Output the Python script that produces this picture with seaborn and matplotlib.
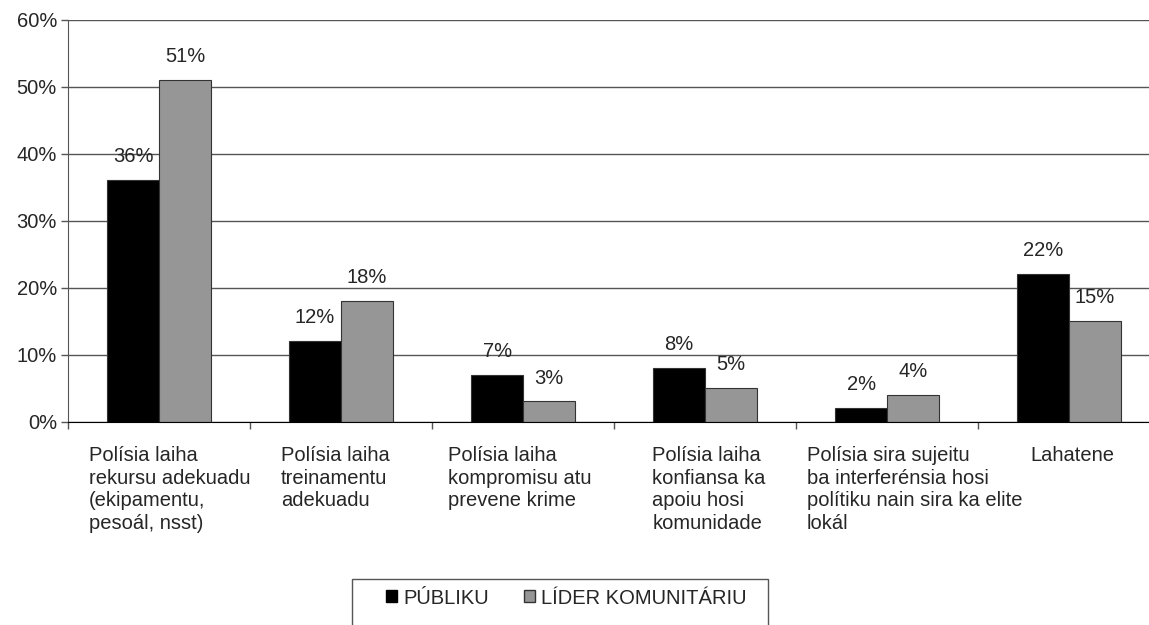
import pandas as pd
import matplotlib.pyplot as plt
import seaborn as sns
from matplotlib.patches import Rectangle, Patch
from matplotlib.ticker import FixedLocator

# Dados
kategoria = [
    "Polísia laiha\nrekursu adekuadu\n(ekipamentu,\npesoál, nsst)",
    "Polísia laiha\ntreinamentu\nadekuadu",
    "Polísia laiha\nkompromisu atu\nprevene krime",
    "Polísia laiha\nkonfiansa ka\napoiu hosi\nkomunidade",
    "Polísia sira sujeitu\nba interferénsia hosi\npolítiku nain sira ka elite\nlokál",
    "Lahatene",
]
publiku = [36, 12, 7, 8, 2, 22]
lider = [51, 18, 3, 5, 4, 15]
grupu = ["PÚBLIKU", "LÍDER KOMUNITÁRIU"]

df = pd.DataFrame({
    "kategoria": kategoria * 2,
    "grupu": [grupu[0]] * len(kategoria) + [grupu[1]] * len(kategoria),
    "persentajen": publiku + lider,
})

sns.set_style("white")
plt.rcParams['font.family'] = ['Liberation Sans', 'DejaVu Sans']
FS = 14.5

W, H = 1149, 625
fig = plt.figure(figsize=(W / 100, H / 100), dpi=100)
# eixo estende-se para além da margem direita (como no original)
ax = fig.add_axes([68 / W, 1 - 421.5 / H, 1092 / W, 402 / H])

sns.barplot(data=df, x="kategoria", y="persentajen", hue="grupu",
            palette=["#000000", "#969696"], width=0.57, ax=ax,
            edgecolor="#333333", linewidth=0.8, legend=False)

ax.set_ylim(0, 60)
ax.set_xlim(-0.5, 5.5)
ax.set_yticks(range(0, 61, 10))
ax.set_yticklabels([f"{v}%" for v in range(0, 61, 10)], fontsize=FS)
ax.yaxis.grid(True, color="#555555", linewidth=1)
ax.set_axisbelow(True)

# marcas do eixo x nas fronteiras das categorias
ax.xaxis.set_major_locator(FixedLocator([i - 0.5 for i in range(7)]))
ax.set_xticklabels([])
ax.tick_params(axis="x", length=5, color="#555555", width=1, direction="out", bottom=True)
ax.tick_params(axis="y", length=5, color="#555555", width=1, direction="out", left=True, pad=3)
ax.set_xlabel("")
ax.set_ylabel("")

for s in ["top", "right"]:
    ax.spines[s].set_visible(False)
ax.spines["left"].set_color("#555555")
ax.spines["bottom"].set_color("#000000")

# rótulos das categorias (recuo à esquerda, em fração da largura da categoria)
recuo = [0.115, 0.17, 0.09, 0.21, 0.06, 0.29]
for i, lab in enumerate(kategoria):
    ax.text(i - 0.5 + recuo[i], -3.6, lab, ha="left", va="top",
            fontsize=FS, linespacing=1.26)

# rótulos de valores
for cont in ax.containers:
    ax.bar_label(cont, labels=[f"{v:.0f}%" for v in cont.datavalues],
                 padding=10, fontsize=FS)

# legenda
handles = [Patch(facecolor="#000000", edgecolor="#000000"),
           Patch(facecolor="#969696", edgecolor="#333333")]
fig.legend(handles, grupu, loc="center left", bbox_to_anchor=(378 / W, 1 - 598 / H),
           ncol=2, frameon=False, fontsize=FS, handlelength=0.55, handleheight=0.55,
           handletextpad=0.3, columnspacing=1.75, borderaxespad=0)
fig.patches.append(Rectangle((352 / W, 1 - 640 / H), 416 / W, 61 / H,
                             transform=fig.transFigure, fill=False,
                             edgecolor="#555555", linewidth=1))

plt.savefig("out.png", dpi=100)
